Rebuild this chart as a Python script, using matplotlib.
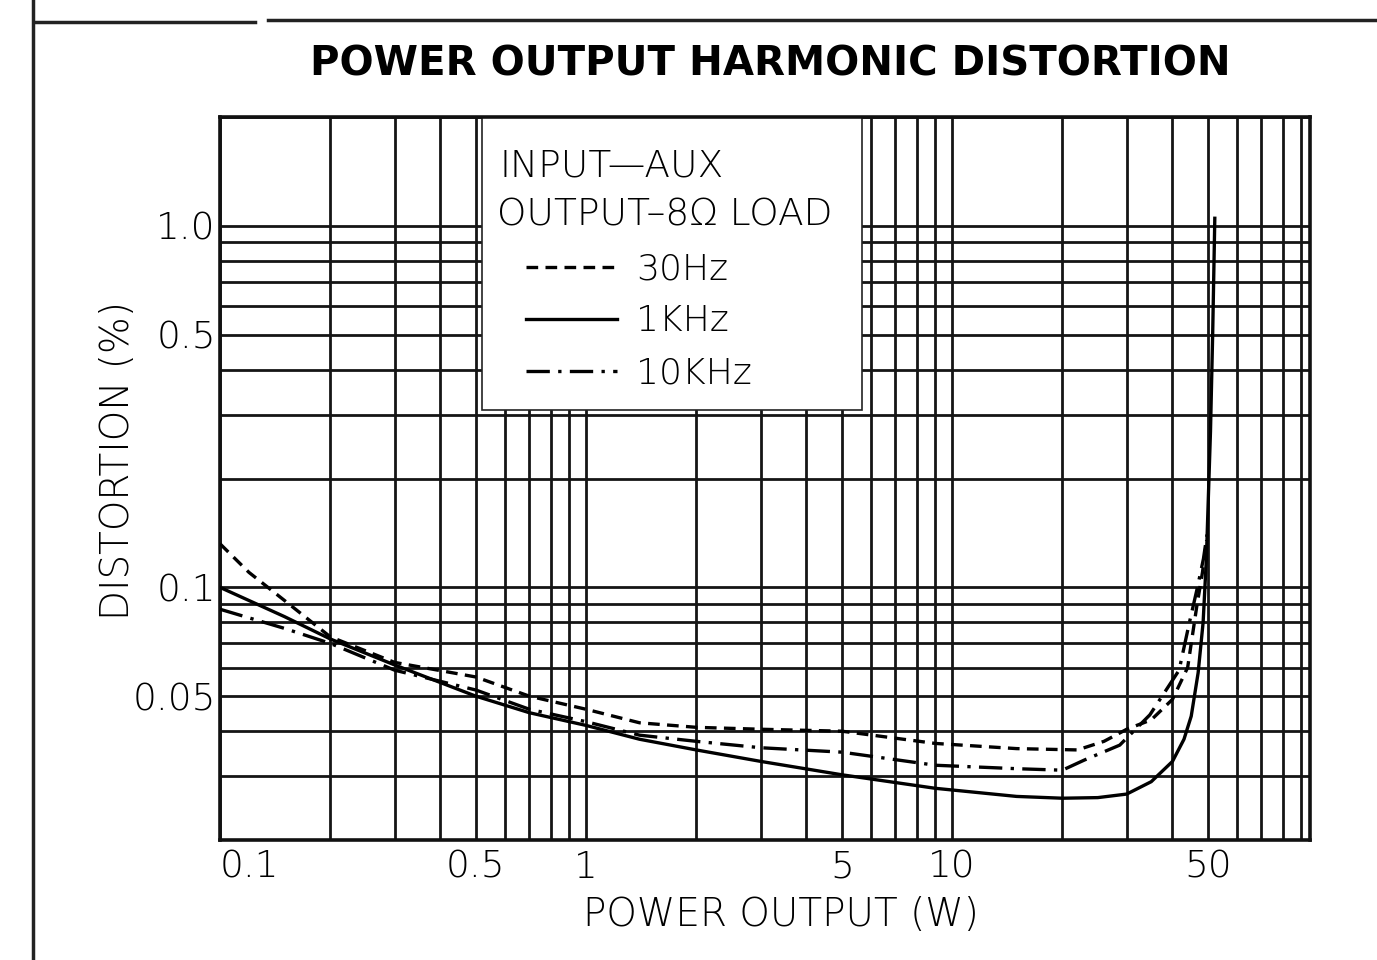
import numpy as np
import matplotlib
matplotlib.use("Agg")
import matplotlib.pyplot as plt
from matplotlib.ticker import FixedLocator, LogLocator, NullFormatter
from matplotlib.patches import Rectangle
from matplotlib.lines import Line2D

# valores (W, %)
power_30hz = [0.1, 0.12, 0.15, 0.2, 0.3, 0.5, 0.7, 1, 1.4, 2, 3, 5, 9, 15, 22, 26, 30, 35, 40, 44, 46.6, 48.3, 49.6]
thd_30hz = [0.132, 0.110, 0.092, 0.073, 0.062, 0.0565, 0.050, 0.046, 0.0422, 0.041, 0.0405, 0.040, 0.037, 0.0358, 0.0355,
            0.0375, 0.0405, 0.043, 0.049, 0.060, 0.0886, 0.11, 0.135]

power_1khz = [0.1, 0.15, 0.2, 0.3, 0.5, 0.7, 1, 1.4, 2, 3, 5, 9, 15, 20, 25, 30, 35, 40, 43, 45, 47, 48.5, 49.5, 50.8, 51.5, 52.2]
thd_1khz = [0.100, 0.083, 0.072, 0.061, 0.050, 0.045, 0.0415, 0.038, 0.0355, 0.033, 0.0303, 0.0278, 0.0264, 0.0261, 0.0262,
            0.0268, 0.029, 0.033, 0.038, 0.044, 0.058, 0.080, 0.12, 0.27, 0.5, 1.05]

power_10khz = [0.1, 0.15, 0.2, 0.3, 0.5, 0.7, 1, 1.4, 2, 3, 5, 9, 15, 20, 23, 28.7, 34.7, 41.7, 44.5, 46.8, 48.6, 49.7]
thd_10khz = [0.087, 0.077, 0.070, 0.059, 0.052, 0.046, 0.0425, 0.039, 0.0375, 0.036, 0.035, 0.0322, 0.0315, 0.0312,
             0.0333, 0.0366, 0.0444, 0.059, 0.080, 0.100, 0.12, 0.14]

x_ticks = [0.1, 0.5, 1, 5, 10, 50]
x_labels = ["0.1", "0.5", "1", "5", "10", "50"]
y_ticks = [0.05, 0.1, 0.5, 1.0]
y_labels = ["0.05", "0.1", "0.5", "1.0"]

fonte = {"family": "DejaVu Sans", "weight": "light"}

fig = plt.figure(figsize=(13.77, 9.6), dpi=100)
ax = fig.add_axes([220 / 1377, 0.125, 1090 / 1377, 0.753])
ax.set_xscale("log")
ax.set_yscale("log")
ax.set_xlim(0.1, 95)
ax.set_ylim(0.02, 2.0)

# grade logaritmica
ax.xaxis.set_major_locator(FixedLocator(x_ticks))
ax.xaxis.set_minor_locator(LogLocator(base=10, subs=np.arange(1, 10)))
ax.yaxis.set_major_locator(FixedLocator(y_ticks))
ax.yaxis.set_minor_locator(LogLocator(base=10, subs=np.arange(1, 10)))
ax.xaxis.set_minor_formatter(NullFormatter())
ax.yaxis.set_minor_formatter(NullFormatter())
ax.grid(True, which="both", color="#151515", lw=2.0)
ax.set_axisbelow(True)
ax.tick_params(which="both", length=0)
ax.set_xticklabels(x_labels, fontsize=27, **fonte)
ax.set_yticklabels(y_labels, fontsize=27, **fonte)
ax.tick_params(axis="x", pad=7)
ax.tick_params(axis="y", pad=3)
ax.get_xticklabels()[0].set_horizontalalignment("left")
for s in ax.spines.values():
    s.set_linewidth(2.6)
    s.set_color("#111111")

# caixa branca da legenda
ax.add_patch(Rectangle((0.2404, 0.5947), 0.3486, 0.4053, transform=ax.transAxes,
                       facecolor="white", edgecolor="#222222", lw=1.2, zorder=2))
ax.text(0.256, 0.933, "INPUT\u2014AUX", transform=ax.transAxes, fontsize=27, va="center", zorder=3, **fonte)
ax.text(0.254, 0.864, "OUTPUT\u20138\u03a9 LOAD", transform=ax.transAxes, fontsize=27, va="center", zorder=3, **fonte)

l1, = ax.plot(power_30hz, thd_30hz, color="black", lw=2.4, ls=(0, (3.5, 2.2)), zorder=4, label="30Hz")
l2, = ax.plot(power_1khz, thd_1khz, color="black", lw=2.4, ls="-", zorder=4, label="1KHz")
l3, = ax.plot(power_10khz, thd_10khz, color="black", lw=2.4, ls=(0, (7, 2.5, 1, 2.5)), zorder=4, label="10KHz")

leg = ax.legend(handles=[l1, l2, l3], loc="upper left", bbox_to_anchor=(0.281, 0.813), frameon=False,
                prop={"size": 26, **fonte}, handlelength=2.5, handletextpad=0.55, labelspacing=0.5,
                borderpad=0, borderaxespad=0)
leg.set_zorder(5)

fig.text(770 / 1377, 1 - 65 / 960, "POWER OUTPUT HARMONIC DISTORTION", ha="center", va="center",
         fontsize=29, fontweight="bold", family="DejaVu Sans")
fig.text(118 / 1377, 1 - 460 / 960, "DISTORTION (%)", rotation=90, ha="center", va="center", fontsize=28, **fonte)
fig.text(781 / 1377, 1 - 915 / 960, "POWER OUTPUT (W)", ha="center", va="center", fontsize=28, **fonte)

# moldura da pagina
fig.add_artist(Line2D([33 / 1377, 33 / 1377], [0, 1], transform=fig.transFigure, color="#222222", lw=2.5))
fig.add_artist(Line2D([35 / 1377, 255 / 1377], [1 - 22 / 960] * 2, transform=fig.transFigure, color="#222222", lw=2.5))
fig.add_artist(Line2D([268 / 1377, 1], [1 - 20 / 960] * 2, transform=fig.transFigure, color="#222222", lw=2.5))

fig.savefig("out.png", dpi=100)
